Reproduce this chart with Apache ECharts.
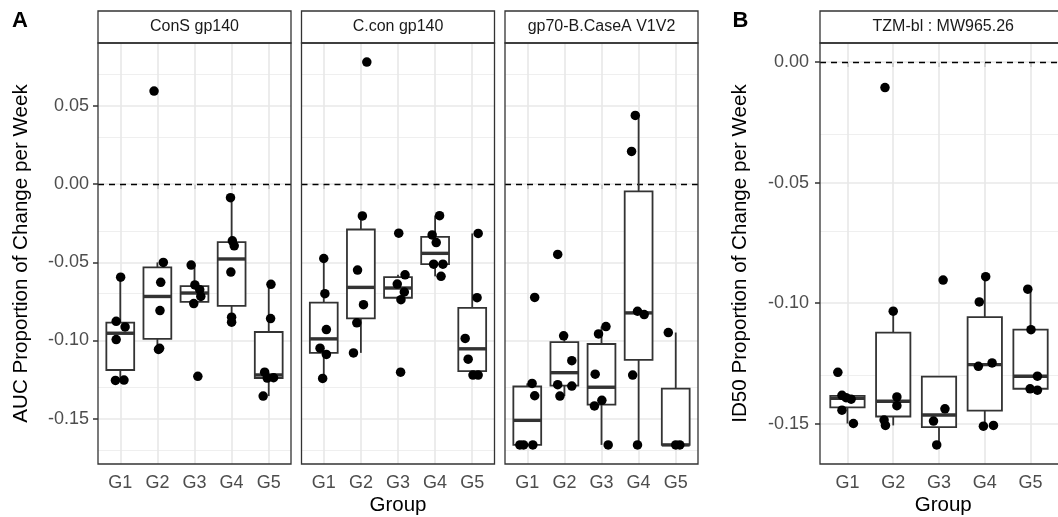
<!DOCTYPE html>
<html>
<head>
<meta charset="utf-8">
<script src="https://cdn.jsdelivr.net/npm/echarts@6/dist/echarts.min.js"></script>
<style>
html,body{margin:0;padding:0;background:#fff;}
#chart{width:1058px;height:517px;}
</style>
</head>
<body>
<div id="chart"></div>
<script>
// ---------------- data ----------------
const groups = ['G1', 'G2', 'G3', 'G4', 'G5'];
const groupPos = [1, 2, 3, 4, 5];
const panelTitles = ['ConS gp140', 'C.con gp140', 'gp70-B.CaseA V1V2', 'TZM-bl : MW965.26'];
const yTitleA = 'AUC Proportion of Change per Week';
const yTitleB = 'ID50 Proportion of Change per Week';
const xTitle = 'Group';
const yTicksA = [-0.15, -0.10, -0.05, 0.00, 0.05];
const yMinorA = [-0.175, -0.125, -0.075, -0.025, 0.025, 0.075];
const yTicksB = [-0.15, -0.10, -0.05, 0.00];
const yMinorB = [-0.125, -0.075, -0.025];
const yRangeA = [-0.1789, 0.0901];
const yRangeB = [-0.1667, 0.0079];
const refLine = 0;

// values per group (G1..G5) and horizontal jitter
const consValues = [
  [-0.0595, -0.0877, -0.0913, -0.0994, -0.1255, -0.1253],
  [0.0594, -0.0501, -0.0628, -0.0809, -0.1057, -0.1050],
  [-0.0518, -0.0645, -0.0675, -0.0718, -0.0764, -0.1229],
  [-0.0087, -0.0363, -0.0395, -0.0563, -0.0851, -0.0883],
  [-0.0641, -0.0860, -0.1202, -0.1240, -0.1238, -0.1355]
];
const consJitter = [
  [0.01, -0.11, 0.13, -0.11, -0.13, 0.10],
  [-0.09, 0.16, 0.09, 0.07, 0.03, 0.06],
  [-0.09, 0.01, 0.14, 0.17, -0.02, 0.09],
  [-0.03, 0.02, 0.07, -0.02, 0.00, 0.00],
  [0.06, 0.05, -0.11, -0.04, 0.13, -0.15]
];
const cconValues = [
  [-0.0476, -0.0701, -0.0930, -0.1049, -0.1089, -0.1242],
  [0.0779, -0.0204, -0.0550, -0.0771, -0.0887, -0.1079],
  [-0.0314, -0.0580, -0.0639, -0.0690, -0.0739, -0.1202],
  [-0.0202, -0.0325, -0.0374, -0.0512, -0.0512, -0.0590],
  [-0.0316, -0.0726, -0.0987, -0.1119, -0.1221, -0.1221]
];
const cconJitter = [
  [0.00, 0.03, 0.07, -0.10, 0.07, -0.03],
  [0.16, 0.04, -0.09, 0.07, -0.11, -0.20],
  [0.02, 0.19, -0.02, 0.17, 0.08, 0.07],
  [0.12, -0.08, 0.03, -0.04, 0.21, 0.16],
  [0.16, 0.13, -0.19, -0.11, 0.02, 0.16]
];
const gp70Values = [
  [-0.0725, -0.1274, -0.1353, -0.1667, -0.1667, -0.1667],
  [-0.0450, -0.0970, -0.1129, -0.1282, -0.1291, -0.1355],
  [-0.0911, -0.0958, -0.1215, -0.1382, -0.1418, -0.1667],
  [0.0438, 0.0208, -0.0813, -0.0834, -0.1221, -0.1667],
  [-0.0949, -0.1667, -0.1667]
];
const gp70Jitter = [
  [0.20, 0.13, 0.20, -0.20, -0.10, 0.15],
  [-0.18, -0.02, 0.20, -0.18, 0.20, -0.12],
  [0.12, -0.08, -0.17, 0.01, -0.19, 0.18],
  [-0.09, -0.19, -0.03, 0.15, -0.16, -0.03],
  [-0.20, 0.00, 0.11]
];
const tzmValues = [
  [-0.1287, -0.1382, -0.1392, -0.1398, -0.1444, -0.1499],
  [-0.0106, -0.1033, -0.1389, -0.1425, -0.1485, -0.1507],
  [-0.0904, -0.1438, -0.1489, -0.1588],
  [-0.0890, -0.0995, -0.1262, -0.1248, -0.1510, -0.1507],
  [-0.0942, -0.1110, -0.1303, -0.1355, -0.1361]
];
const tzmJitter = [
  [-0.21, -0.12, -0.03, 0.08, -0.12, 0.13],
  [-0.18, 0.00, 0.08, 0.08, -0.20, -0.17],
  [0.09, 0.13, -0.12, -0.05],
  [0.02, -0.12, -0.14, 0.16, -0.03, 0.19],
  [-0.06, 0.01, 0.15, -0.01, 0.15]
];

// ---------------- layout / style ----------------
const FONT = "'Liberation Sans', Arial, Helvetica, sans-serif";
const PANEL_TOP = 43, PANEL_H = 421, STRIP_H = 32;
const panelLeft = [98, 301.5, 505, 820];
const panelWidth = [193, 193, 193, 246.5];
const BOX_WIDTH = 0.75;
const EDGE = '#333333';

const panelValues = [consValues, cconValues, gp70Values, tzmValues];
const panelJitter = [consJitter, cconJitter, gp70Jitter, tzmJitter];

function quantile(s, p) {
  const h = (s.length - 1) * p;
  const lo = Math.floor(h);
  const hi = Math.min(lo + 1, s.length - 1);
  return s[lo] + (h - lo) * (s[hi] - s[lo]);
}
function boxStats(vals, pos) {
  const s = [...vals].sort((a, b) => a - b);
  const q1 = quantile(s, 0.25), md = quantile(s, 0.5), q3 = quantile(s, 0.75);
  const iqr = q3 - q1;
  const lo = Math.min(...s.filter(v => v >= q1 - 1.5 * iqr));
  const hi = Math.max(...s.filter(v => v <= q3 + 1.5 * iqr));
  return [pos, lo, q1, md, q3, hi];
}

function renderBox(params, api) {
  const x = api.value(0);
  const lo = api.coord([x, api.value(1)]);
  const q1 = api.coord([x, api.value(2)]);
  const md = api.coord([x, api.value(3)]);
  const q3 = api.coord([x, api.value(4)]);
  const hi = api.coord([x, api.value(5)]);
  const hw = api.size([BOX_WIDTH, 0])[0] / 2;
  const ls = { stroke: EDGE, lineWidth: 1.8, fill: null };
  return {
    type: 'group',
    children: [
      { type: 'line', shape: { x1: lo[0], y1: lo[1], x2: q1[0], y2: q1[1] }, style: ls },
      { type: 'line', shape: { x1: q3[0], y1: q3[1], x2: hi[0], y2: hi[1] }, style: ls },
      { type: 'rect', shape: { x: q3[0] - hw, y: q3[1], width: hw * 2, height: q1[1] - q3[1] },
        style: { stroke: EDGE, lineWidth: 1.8, fill: '#ffffff' } },
      { type: 'line', shape: { x1: md[0] - hw, y1: md[1], x2: md[0] + hw, y2: md[1] },
        style: { stroke: EDGE, lineWidth: 3.4 } }
    ]
  };
}

const grids = [], xAxes = [], yAxes = [], series = [], graphics = [];

for (let i = 0; i < 4; i++) {
  const isB = i === 3;
  const showY = i === 0 || isB;
  const ticks = isB ? yTicksB : yTicksA;
  const minor = isB ? yMinorB : yMinorA;
  const range = isB ? yRangeB : yRangeA;

  grids.push({ left: panelLeft[i], top: PANEL_TOP, width: panelWidth[i], height: PANEL_H, containLabel: false });

  xAxes.push({
    type: 'value', gridIndex: i, min: 0.4, max: 5.6,
    axisLine: { show: false },
    splitLine: { show: false },
    axisTick: { show: true, customValues: groupPos, length: 5, lineStyle: { color: EDGE, width: 1.5 } },
    axisLabel: { show: true, customValues: groupPos, margin: 10.5, color: '#4d4d4d', fontSize: 18, fontFamily: FONT,
      formatter: v => groups[Math.round(v) - 1] }
  });
  yAxes.push({
    type: 'value', gridIndex: i, min: range[0], max: range[1],
    axisLine: { show: false },
    splitLine: { show: false },
    axisTick: { show: showY, customValues: ticks, length: 5, lineStyle: { color: EDGE, width: 1.5 } },
    axisLabel: { show: showY, customValues: ticks, margin: isB ? 11 : 9, color: '#4d4d4d', fontSize: 18, fontFamily: FONT,
      formatter: v => v.toFixed(2) }
  });

  // grid lines
  const gl = [];
  minor.forEach(v => gl.push({ yAxis: v, lineStyle: { color: '#efefef', width: 1, type: 'solid' } }));
  ticks.forEach(v => gl.push({ yAxis: v, lineStyle: { color: '#e8e8e8', width: 1.6, type: 'solid' } }));
  groupPos.forEach(v => gl.push({ xAxis: v, lineStyle: { color: '#e8e8e8', width: 1.6, type: 'solid' } }));
  series.push({
    type: 'line', xAxisIndex: i, yAxisIndex: i, data: [], silent: true,
    markLine: { z: 1, silent: true, symbol: ['none', 'none'], label: { show: false }, animation: false, data: gl }
  });
  // reference line
  series.push({
    type: 'line', xAxisIndex: i, yAxisIndex: i, data: [], silent: true,
    markLine: { z: 2, silent: true, symbol: ['none', 'none'], label: { show: false }, animation: false,
      data: [{ yAxis: refLine, lineStyle: { color: '#000', width: 1.4, type: [6, 5] } }] }
  });
  // boxes
  series.push({
    type: 'custom', xAxisIndex: i, yAxisIndex: i, z: 3, silent: true,
    renderItem: renderBox,
    encode: { x: 0, y: [1, 2, 3, 4, 5] },
    data: panelValues[i].map((vals, g) => boxStats(vals, groupPos[g]))
  });
  // points
  const pts = [];
  panelValues[i].forEach((vals, g) => vals.forEach((v, k) => pts.push([groupPos[g] + panelJitter[i][g][k], v])));
  series.push({
    type: 'scatter', xAxisIndex: i, yAxisIndex: i, z: 4, silent: true,
    symbolSize: 9.5, itemStyle: { color: '#000', opacity: 1 }, data: pts
  });

  // strip + border
  graphics.push({ type: 'rect', z: 100, shape: { x: panelLeft[i], y: PANEL_TOP - STRIP_H, width: panelWidth[i], height: STRIP_H },
    style: { fill: '#ffffff', stroke: EDGE, lineWidth: 1.3 } });
  graphics.push({ type: 'text', z: 101, x: panelLeft[i] + panelWidth[i] / 2, y: PANEL_TOP - STRIP_H / 2 - 0.5,
    style: { text: panelTitles[i], fontSize: 16, fontFamily: FONT, fill: '#1a1a1a',
      align: 'center', verticalAlign: 'middle', textAlign: 'center', textVerticalAlign: 'middle' } });
  graphics.push({ type: 'rect', z: 100, shape: { x: panelLeft[i], y: PANEL_TOP, width: panelWidth[i], height: PANEL_H },
    style: { fill: null, stroke: EDGE, lineWidth: 1.3 } });
}

function txt(text, x, y, size, opts) {
  return Object.assign({ type: 'text', z: 101, x: x, y: y,
    style: { text: text, fontSize: size, fontFamily: FONT, fill: '#000',
      align: 'center', verticalAlign: 'middle', textAlign: 'center', textVerticalAlign: 'middle' } }, opts || {});
}
const midA = (panelLeft[0] + panelLeft[2] + panelWidth[2]) / 2;
const midB = panelLeft[3] + panelWidth[3] / 2;
const midY = PANEL_TOP + PANEL_H / 2;
graphics.push(txt('A', 20, 21, 22));
graphics[graphics.length - 1].style.fontWeight = 'bold';
graphics.push(txt('B', 740.5, 21, 22));
graphics[graphics.length - 1].style.fontWeight = 'bold';
graphics.push(txt(xTitle, midA, 505, 20.5));
graphics.push(txt(xTitle, midB, 505, 20.5));
graphics.push(txt(yTitleA, 21, midY, 20.6, { rotation: Math.PI / 2 }));
graphics.push(txt(yTitleB, 740, midY, 20.6, { rotation: Math.PI / 2 }));

const chart = echarts.init(document.getElementById('chart'), null, { renderer: 'canvas' });
chart.setOption({
  backgroundColor: '#ffffff',
  animation: false,
  grid: grids,
  xAxis: xAxes,
  yAxis: yAxes,
  series: series,
  graphic: { elements: graphics }
});
</script>
</body>
</html>
